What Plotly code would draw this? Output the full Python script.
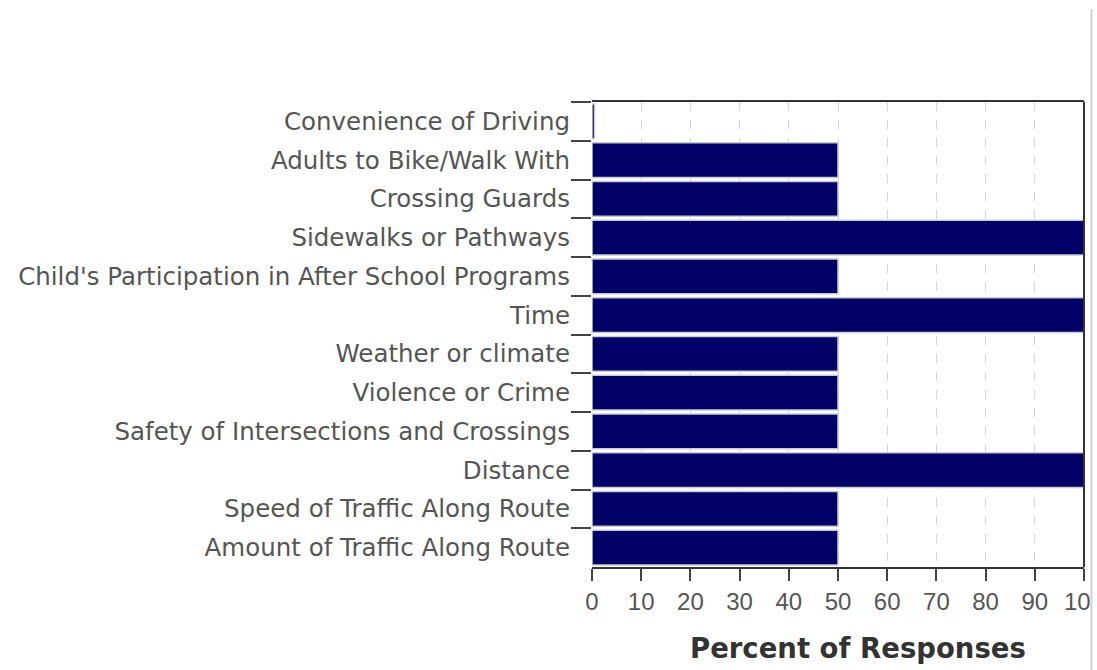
import plotly.graph_objects as go

categories = [
    "Convenience of Driving",
    "Adults to Bike/Walk With",
    "Crossing Guards",
    "Sidewalks or Pathways",
    "Child's Participation in After School Programs",
    "Time",
    "Weather or climate",
    "Violence or Crime",
    "Safety of Intersections and Crossings",
    "Distance",
    "Speed of Traffic Along Route",
    "Amount of Traffic Along Route",
]
values = [0.5, 50, 50, 100, 50, 100, 50, 50, 50, 100, 50, 50]
x_ticks = [0, 10, 20, 30, 40, 50, 60, 70, 80, 90, 100]
x_title = "Percent of Responses"

# body margin is removed below, so figure coords = screen coords
L, R, T, B = 592, 1084, 102, 567
W, H = 1097, 670
PW, PH = R - L, B - T


def px_x(x):
    return (x - L) / PW


def px_y(y):
    return (B - y) / PH


fig = go.Figure()
fig.add_trace(go.Bar(
    y=categories, x=values, orientation="h",
    marker=dict(color="#000066", line=dict(color="#c9c9d2", width=1.5)),
    width=0.9,
    hoverinfo="x+y",
))

fig.update_layout(
    width=W, height=H,
    margin=dict(l=L, r=W - R, t=T, b=H - B, autoexpand=False),
    paper_bgcolor="white", plot_bgcolor="white",
    showlegend=False,
    font=dict(family="DejaVu Sans", color="#555555"),
    xaxis=dict(
        range=[0, 100], tickvals=x_ticks, ticktext=[str(v) for v in x_ticks],
        showgrid=True, gridcolor="#cfd5dc", griddash="dash", gridwidth=1,
        showline=True, linecolor="#333333", linewidth=2, mirror=True,
        ticks="outside", ticklen=12, tickcolor="#444444", tickwidth=1.5,
        tickfont=dict(family="Liberation Sans", size=24, color="#555555"),
        ticklabeloverflow="allow", automargin=False,
        zeroline=False, fixedrange=True,
    ),
    yaxis=dict(
        autorange="reversed", type="category",
        showgrid=False, showline=False, zeroline=False,
        ticks="outside", tickson="boundaries", ticklen=20, tickcolor="#444444", tickwidth=1.5,
        ticklabelstandoff=21, automargin=False,
        tickfont=dict(family="DejaVu Sans", size=24.5, color="#555555"),
        fixedrange=True,
    ),
    shapes=[
        dict(type="line", xref="paper", yref="paper", x0=1, x1=1, y0=0, y1=1,
             line=dict(color="#333333", width=2), layer="above"),
        dict(type="rect", xref="paper", yref="paper",
             x0=px_x(1090), x1=px_x(1110), y0=-0.5, y1=1.3,
             fillcolor="white", line=dict(width=0), layer="above"),
        dict(type="line", xref="paper", yref="paper",
             x0=px_x(1091.5), x1=px_x(1091.5),
             y0=px_y(675), y1=px_y(9),
             line=dict(color="#d0d0d0", width=2), layer="above"),
    ],
    annotations=[
        dict(text=x_title, xref="paper", yref="paper",
             x=px_x(858), y=px_y(648),
             xanchor="center", yanchor="middle", showarrow=False,
             font=dict(family="DejaVu Sans", size=27.5, color="#333333", weight="bold")),
    ],
)

fig.write_html(
    "out.html",
    config={"displayModeBar": False},
    post_script="document.body.style.margin='0';document.body.style.overflow='hidden';",
)
